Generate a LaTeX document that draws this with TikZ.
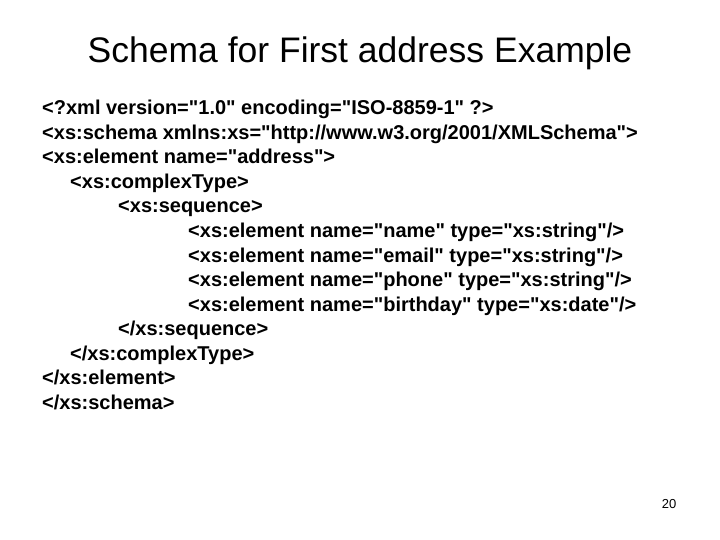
\documentclass[tikz,border=0pt]{standalone}
\usepackage{fontspec}
\setmainfont{Liberation Sans}
\newfontfamily\codefont{Liberation Sans}
\begin{document}
\begin{tikzpicture}[x=1pt,y=-1pt,
  codeline/.style={anchor=base west,inner sep=0pt,font=\codefont\fontsize{20}{24}\selectfont\bfseries},
  titletext/.style={anchor=base,inner sep=0pt,font=\fontsize{35.5}{40}\selectfont},
  pagenum/.style={anchor=base,inner sep=0pt,font=\fontsize{13}{15}\selectfont}]
\useasboundingbox[fill=white] (0,0) rectangle (720,540);
\node[titletext] (title) at (360,63) {Schema for First address Example};
\def\lh{24.5}
\node[codeline] (l1) at (42,115) {<?xml version="1.0" encoding="ISO-8859-1" ?>};
\node[codeline] (l2) at (42,115+\lh) {<xs:schema xmlns:xs="http://www.w3.org/2001/XMLSchema">};
\node[codeline] (l3) at (42,115+2*\lh) {<xs:element name="address">};
\node[codeline] (l4) at (70,115+3*\lh) {<xs:complexType>};
\node[codeline] (l5) at (118,115+4*\lh) {<xs:sequence>};
\node[codeline] (l6) at (188,115+5*\lh) {<xs:element name="name" type="xs:string"/>};
\node[codeline] (l7) at (188,115+6*\lh) {<xs:element name="email" type="xs:string"/>};
\node[codeline] (l8) at (188,115+7*\lh) {<xs:element name="phone" type="xs:string"/>};
\node[codeline] (l9) at (188,115+8*\lh) {<xs:element name="birthday" type="xs:date"/>};
\node[codeline] (l10) at (118,115+9*\lh) {</xs:sequence>};
\node[codeline] (l11) at (70,115+10*\lh) {</xs:complexType>};
\node[codeline] (l12) at (42,115+11*\lh) {</xs:element>};
\node[codeline] (l13) at (42,115+12*\lh) {</xs:schema>};
\node[pagenum] (pg) at (669,508) {20};
\end{tikzpicture}
\end{document}
